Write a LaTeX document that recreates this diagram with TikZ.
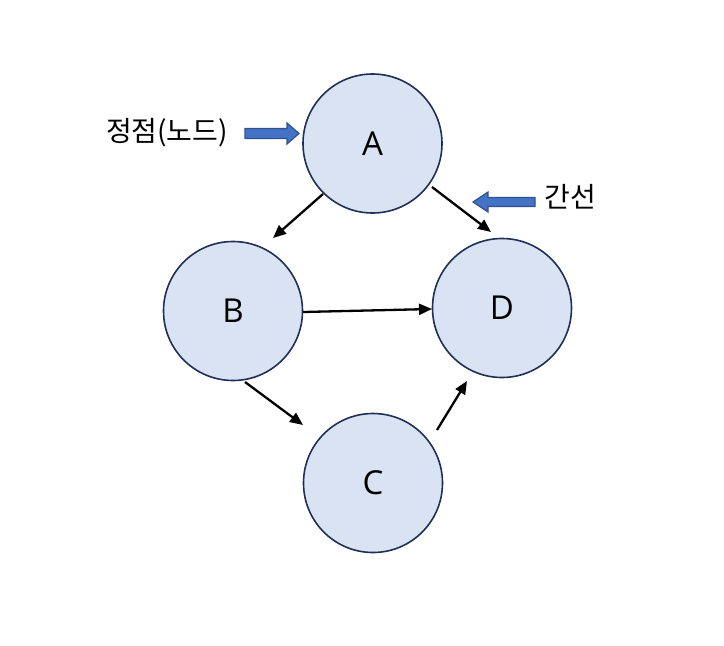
\documentclass[tikz,border=0pt]{standalone}
\usepackage{fontspec}
\setmainfont{Open Sans}
\newfontfamily\kofont{Noto Sans CJK KR}
\usetikzlibrary{arrows.meta}
\definecolor{nodefill}{HTML}{DAE3F3}
\definecolor{nodeline}{HTML}{1F2F55}
\definecolor{blockfill}{HTML}{4472C4}
\definecolor{blockline}{HTML}{2F528F}
\tikzset{
  vertex/.style={circle, draw=nodeline, fill=nodefill, line width=1.6pt, minimum size=139pt, inner sep=0pt, font=\fontsize{33}{36}\selectfont},
  edge/.style={line width=2.3pt, -{Triangle[length=13pt,width=11pt]}},
  blockarrow/.style={fill=blockfill, draw=blockline, line width=1.2pt, line join=miter},
  label/.style={font=\kofont\fontsize{28}{32}\selectfont, inner sep=0pt}
}
\begin{document}
\begin{tikzpicture}[x=1pt,y=-1pt]
\useasboundingbox (0,0) rectangle (724,646);
\node[vertex] (A) at (372.5,143.5) {A};
\node[vertex] (B) at (233,311) {B};
\node[vertex] (D) at (502,308) {D};
\node[vertex] (C) at (373,483) {C};
% connector ends
\coordinate (ab1) at (323,194); \coordinate (ab2) at (273,238);
\coordinate (ad1) at (432,187); \coordinate (ad2) at (491,232);
\coordinate (bd1) at (303,312); \coordinate (bd2) at (432,309);
\coordinate (bc1) at (245,382); \coordinate (bc2) at (303,425);
\coordinate (cd1) at (437,430); \coordinate (cd2) at (467,381);
\draw[edge] (ab1) -- (ab2);
\draw[edge] (ad1) -- (ad2);
\draw[edge] (bd1) -- (bd2);
\draw[edge] (bc1) -- (bc2);
\draw[edge] (cd1) -- (cd2);
% labels
\node[label] (lv) at (167,133) {정점(노드)};
\node[label] (le) at (570,197) {간선};
% block arrows
\draw[blockarrow] (245,128.5) -- (287,128.5) -- (287,123) -- (299,133.5) -- (287,144) -- (287,138.5) -- (245,138.5) -- cycle;
\draw[blockarrow] (535,197.5) -- (488,197.5) -- (488,192) -- (473,202) -- (488,212) -- (488,206.5) -- (535,206.5) -- cycle;
\end{tikzpicture}
\end{document}
